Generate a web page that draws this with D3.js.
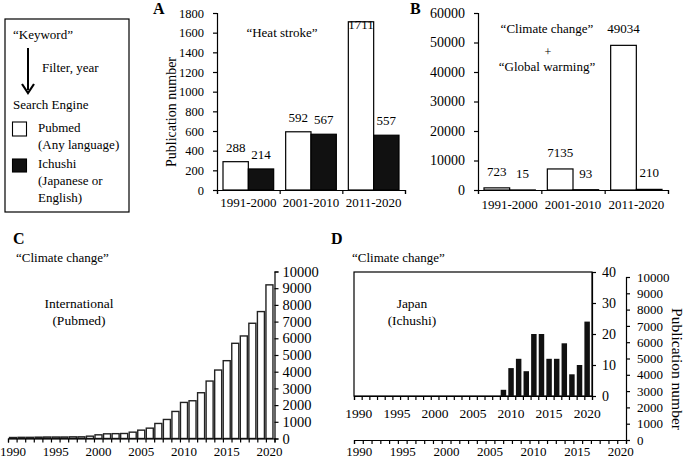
<!DOCTYPE html>
<html><head><meta charset="utf-8">
<script src="https://d3js.org/d3.v7.min.js"></script>
<style>
body{margin:0;background:#fff;}
text{font-family:"Liberation Serif","Times New Roman",serif;fill:#000;}
.domain,.tick line{stroke:#000;stroke-width:1.2;}
</style></head><body>
<svg id="chart" width="685" height="461"></svg>
<script>
// ---- data ----
const periods = ["1991-2000", "2001-2010", "2011-2020"];
const heatPubmed = [288, 592, 1711];
const heatIchushi = [214, 567, 557];
const climPubmed = [723, 7135, 49034];
const climIchushi = [15, 93, 210];
const years = [1990,1991,1992,1993,1994,1995,1996,1997,1998,1999,2000,2001,2002,2003,2004,2005,2006,2007,2008,2009,2010,2011,2012,2013,2014,2015,2016,2017,2018,2019,2020];
const intlPubmed = [60,70,70,80,90,90,90,100,100,140,220,280,290,300,380,500,620,900,1140,1620,2160,2260,2740,3440,4100,4660,5700,6140,6900,7600,9200];
const japanIchushi = [0,0,0,0,0,0,0,0,0,0,0,0,0,0,0,0,0,0,0,2,9,12,8,20,20,12,12,17,7,10,24];
const ticksA = [0,200,400,600,800,1000,1200,1400,1600,1800];
const ticksB = [0,10000,20000,30000,40000,50000,60000];
const ticksC = [0,1000,2000,3000,4000,5000,6000,7000,8000,9000,10000];
const ticksD = [0,10,20,30,40];
const yearLabels = [1990,1995,2000,2005,2010,2015,2020];
const seriesNames = ["Pubmed", "Ichushi"];

const svg = d3.select("#chart");

// ---- legend ----
const leg = svg.append("g");
leg.append("rect").attr("x",5).attr("y",19).attr("width",124).attr("height",193)
  .attr("fill","none").attr("stroke","#000").attr("stroke-width",1.2);
const lt = (x,y,s)=>leg.append("text").attr("x",x).attr("y",y).attr("font-size",13).text(s);
lt(13,39,"\u201CKeyword\u201D");
leg.append("line").attr("x1",28).attr("y1",48).attr("x2",28).attr("y2",90).attr("stroke","#000").attr("stroke-width",2);
leg.append("path").attr("d","M22,84 L28,93 L34,84").attr("fill","none").attr("stroke","#000").attr("stroke-width",2.2);
lt(42,72,"Filter, year");
lt(13,109,"Search Engine");
leg.append("rect").attr("x",12.5).attr("y",122).attr("width",14).attr("height",14).attr("fill","#fff").attr("stroke","#000").attr("stroke-width",1.1);
lt(38,132,"Pubmed");
lt(38,149,"(Any language)");
leg.append("rect").attr("x",12.5).attr("y",159).attr("width",14).attr("height",13).attr("fill","#111").attr("stroke","#000").attr("stroke-width",1.1);
lt(38,168,"Ichushi");
lt(38,185,"(Japanese or");
lt(38,202,"English)");

// panel letters
[["A",153,14],["B",410,14],["C",13,244],["D",331,244]].forEach(([s,x,y])=>
  svg.append("text").attr("x",x).attr("y",y).attr("font-size",16).attr("font-weight","bold").text(s));

// ---- grouped panels A & B ----
function grouped(opts){
  const {x0,x1,y0,y1,max,ticks,pub,ich,tickFont,labelOffset,catPad} = opts;
  const g = svg.append("g");
  const y = d3.scaleLinear().domain([0,max]).range([y0,y1]);
  const x = d3.scaleBand().domain(periods).range([x0,x1]);
  const xs = d3.scaleBand().domain(seriesNames).range([6, x.bandwidth()-6]);
  const xb = d3.scaleLinear().domain([0,periods.length]).range([x0,x1]);
  const data = periods.map((p,i)=>({p, vals:[{s:"Pubmed",v:pub[i]},{s:"Ichushi",v:ich[i]}]}));
  g.selectAll("g.grp").data(data).join("g").attr("class","grp")
    .attr("transform",d=>`translate(${x(d.p)},0)`)
    .each(function(d){
      const gg = d3.select(this);
      gg.selectAll("rect").data(d.vals).join("rect")
        .attr("x",e=>xs(e.s)).attr("width",xs.bandwidth())
        .attr("y",e=>y(e.v)).attr("height",e=>y0-y(e.v))
        .attr("fill",e=>e.s==="Pubmed"?"#fff":"#111")
        .attr("stroke","#000").attr("stroke-width",1.2);
      gg.selectAll("text").data(d.vals).join("text")
        .attr("x",e=>xs(e.s)+xs.bandwidth()/2)
        .attr("y",e=>Math.max(y(e.v)-labelOffset, y1+16))
        .attr("text-anchor","middle").attr("font-size",13).text(e=>e.v);
    });
  const ya = g.append("g").attr("transform",`translate(${x0},0)`)
    .call(d3.axisLeft(y).tickValues(ticks).tickSize(4).tickPadding(9).tickFormat(d3.format("d")));
  ya.selectAll("text").attr("font-size",tickFont).attr("font-family",null);
  g.append("g").attr("transform",`translate(0,${y0})`)
    .call(d3.axisBottom(xb).tickValues(d3.range(periods.length+1)).tickSize(4).tickFormat(""));
  const xl = g.append("g").attr("transform",`translate(0,${y0})`)
    .call(d3.axisBottom(x).tickSize(0).tickPadding(catPad));
  xl.select(".domain").remove();
  xl.selectAll("text").attr("font-size",13).attr("font-family",null);
  return g;
}
grouped({x0:217,x1:405,y0:190,y1:13,max:1800,ticks:ticksA,pub:heatPubmed,ich:heatIchushi,tickFont:12.5,labelOffset:10,catPad:8});
grouped({x0:478,x1:668,y0:190,y1:13,max:60000,ticks:ticksB,pub:climPubmed,ich:climIchushi,tickFont:14,labelOffset:12,catPad:10});

svg.append("text").attr("transform","translate(176,112) rotate(-90)").attr("text-anchor","middle")
  .attr("font-size",14).text("Publication number");
svg.append("text").attr("x",282).attr("y",37).attr("text-anchor","middle").attr("font-size",13).text("\u201CHeat stroke\u201D");
svg.append("text").attr("x",547).attr("y",33).attr("text-anchor","middle").attr("font-size",13).text("\u201CClimate change\u201D");
svg.append("text").attr("x",548).attr("y",56).attr("text-anchor","middle").attr("font-size",12).text("+");
svg.append("text").attr("x",547).attr("y",71).attr("text-anchor","middle").attr("font-size",13).text("\u201CGlobal warming\u201D");

// ---- yearly panel helper ----
function yearly(opts){
  const {x0,x1,y0,y1,max,ticks,vals,fill,pad,yFont,xFont,tickPad,labPad} = opts;
  const g = svg.append("g");
  const y = d3.scaleLinear().domain([0,max]).range([y0,y1]);
  const x = d3.scaleBand().domain(years).range([x0,x1]).padding(pad);
  const xb = d3.scaleLinear().domain([years[0]-0.5, years[years.length-1]+0.5]).range([x0,x1]);
  if(vals){
    g.selectAll("rect").data(years.map((yr,i)=>({yr,v:vals[i]}))).join("rect")
      .attr("x",d=>x(d.yr)).attr("width",x.bandwidth())
      .attr("y",d=>y(d.v)).attr("height",d=>y0-y(d.v))
      .attr("fill",fill).attr("stroke",fill==="#fff"?"#222":"none").attr("stroke-width",1.4);
  }
  const ya = g.append("g").attr("transform",`translate(${x1},0)`)
    .call(d3.axisRight(y).tickValues(ticks).tickSize(4).tickPadding(tickPad).tickFormat(d3.format("d")));
  ya.selectAll("text").attr("font-size",yFont).attr("font-family",null);
  g.append("g").attr("transform",`translate(0,${y0})`)
    .call(d3.axisBottom(xb).tickValues(years.map(v=>v-0.5).concat([years[years.length-1]+0.5])).tickSize(4).tickFormat(""));
  const xl = g.append("g").attr("transform",`translate(0,${y0})`)
    .call(d3.axisBottom(x).tickValues(yearLabels).tickSize(0).tickPadding(labPad));
  xl.select(".domain").remove();
  xl.selectAll("text").attr("font-size",xFont).attr("font-family",null);
  return g;
}

// C
yearly({x0:8,x1:274.5,y0:438.5,y1:271.5,max:10000,ticks:ticksC,vals:intlPubmed,fill:"#fff",pad:0.18,yFont:14.5,xFont:13,tickPad:4,labPad:8});
svg.append("text").attr("x",16).attr("y",262).attr("font-size",13).text("\u201CClimate change\u201D");
svg.append("text").attr("x",79).attr("y",308).attr("text-anchor","middle").attr("font-size",13.5).text("International");
svg.append("text").attr("x",79).attr("y",325).attr("text-anchor","middle").attr("font-size",13.5).text("(Pubmed)");

// D background (empty) axis
yearly({x0:354,x1:626,y0:440,y1:277,max:10000,ticks:ticksC,vals:null,fill:"#fff",pad:0.18,yFont:13,xFont:13,tickPad:7,labPad:7});
// D inner box
svg.append("rect").attr("x",354).attr("y",272).attr("width",238).attr("height",124).attr("fill","#fff").attr("stroke","#000").attr("stroke-width",1.2);
yearly({x0:354,x1:592,y0:396,y1:272,max:40,ticks:ticksD,vals:japanIchushi,fill:"#111",pad:0.28,yFont:14,xFont:13.5,tickPad:6,labPad:12});
svg.append("text").attr("x",352).attr("y",262).attr("font-size",13).text("\u201CClimate change\u201D");
svg.append("text").attr("x",412).attr("y",308).attr("text-anchor","middle").attr("font-size",13.5).text("Japan");
svg.append("text").attr("x",412).attr("y",325).attr("text-anchor","middle").attr("font-size",13.5).text("(Ichushi)");
svg.append("text").attr("transform","translate(672,369) rotate(90)").attr("text-anchor","middle")
  .attr("font-size",15.5).text("Publication number");
</script></body></html>
